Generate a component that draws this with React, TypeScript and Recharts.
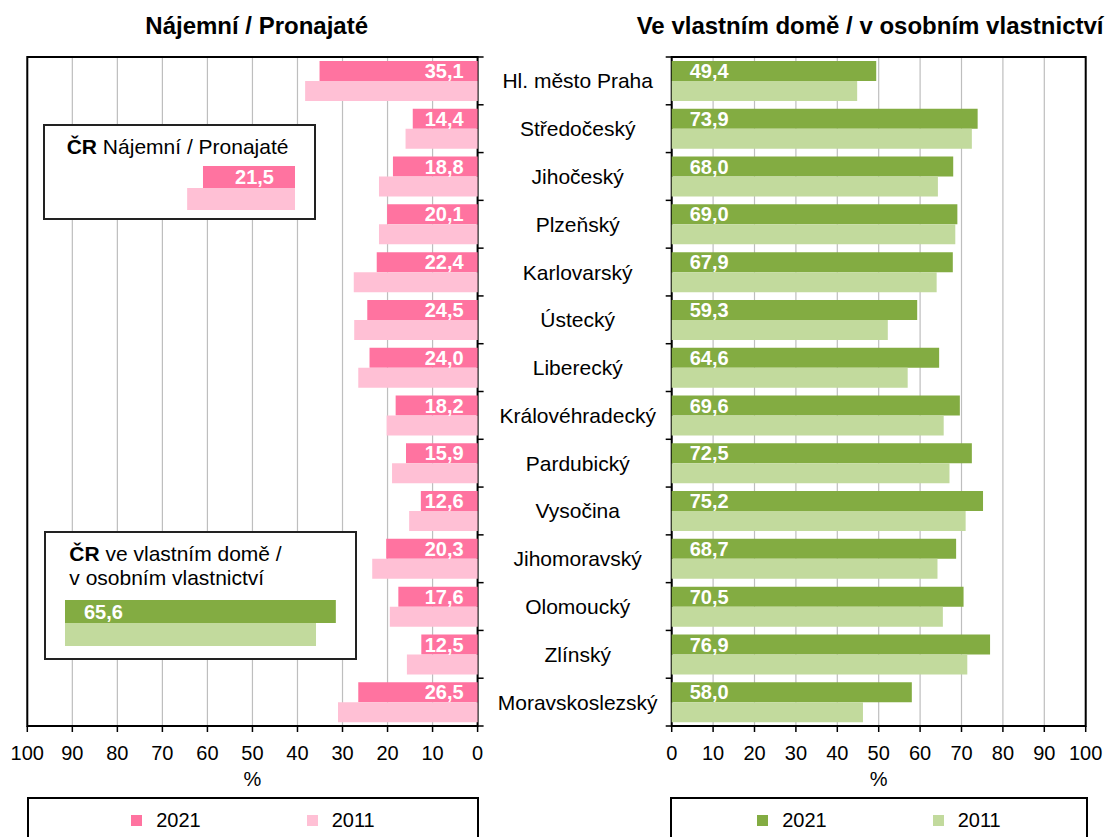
import React from 'react';
import { BarChart, Bar, XAxis, YAxis, CartesianGrid, LabelList, ReferenceArea, Legend } from 'recharts';

const regions = [
  'Hl. město Praha', 'Středočeský', 'Jihočeský', 'Plzeňský', 'Karlovarský', 'Ústecký', 'Liberecký',
  'Královéhradecký', 'Pardubický', 'Vysočina', 'Jihomoravský', 'Olomoucký', 'Zlínský', 'Moravskoslezský',
];
const rent2021 = [35.1, 14.4, 18.8, 20.1, 22.4, 24.5, 24.0, 18.2, 15.9, 12.6, 20.3, 17.6, 12.5, 26.5];
const rent2011 = [38.3, 16.0, 21.9, 21.9, 27.5, 27.4, 26.5, 20.2, 19.0, 15.2, 23.4, 19.5, 15.7, 31.0];
const own2021 = [49.4, 73.9, 68.0, 69.0, 67.9, 59.3, 64.6, 69.6, 72.5, 75.2, 68.7, 70.5, 76.9, 58.0];
const own2011 = [44.8, 72.5, 64.3, 68.5, 64.0, 52.2, 57.0, 65.7, 67.1, 71.0, 64.2, 65.5, 71.4, 46.2];
const crRent = [21.5, 25.2];
const crOwn = [65.6, 60.8];
const percentTicks = [0, 10, 20, 30, 40, 50, 60, 70, 80, 90, 100];
const years = ['2021', '2011'];

const FONT = '"Liberation Sans", Arial, sans-serif';
const PINK = '#FF73A0';
const PINK_L = '#FFC0D5';
const GREEN = '#83AC42';
const GREEN_L = '#C2DA9D';

const rentRows = regions.map((r, i) => ({ region: r, y2021: rent2021[i], y2011: rent2011[i] }));
const ownRows = regions.map((r, i) => ({ region: r, y2021: own2021[i], y2011: own2011[i] }));
const crRentRows = [{ region: 'ČR', y2021: crRent[0], y2011: crRent[1] }];
const crOwnRows = [{ region: 'ČR', y2021: crOwn[0], y2011: crOwn[1] }];

const fmt = (v: any) => Number(v).toFixed(1).replace('.', ',');

const makeTick = (side: 'left' | 'right', withLabel: boolean) => (props: any) => {
  const { x, y, payload, index } = props;
  const half = payload && typeof payload.offset === 'number' ? payload.offset : 0;
  const dx = side === 'right' ? 6 : -6;
  const last = index === regions.length - 1;
  return (
    <g>
      <line x1={x} x2={x + dx} y1={y - half} y2={y - half} stroke="#000" strokeWidth={1.5} />
      {last && <line x1={x} x2={x + dx} y1={y + half} y2={y + half} stroke="#000" strokeWidth={1.5} />}
      {withLabel && (
        <text x={x - 94} y={y} textAnchor="middle" dominantBaseline="central" fontSize={21} fontFamily={FONT} fill="#000">
          {payload.value}
        </text>
      )}
    </g>
  );
};

const LegendContent = (colors: string[]) => (props: any) => {
  const payload = [...(props.payload || [])].sort(
    (a: any, b: any) => years.indexOf(String(a.value)) - years.indexOf(String(b.value)),
  );
  return (
    <div style={{ display: 'flex', justifyContent: 'center', gap: 106, paddingTop: 9, fontFamily: FONT, fontSize: 20, color: '#000' }}>
      {payload.map((p: any, i: number) => (
        <div key={i} style={{ display: 'flex', alignItems: 'center', gap: 14 }}>
          <span style={{ display: 'inline-block', width: 11, height: 11, background: p.color || colors[i] }} />
          <span style={{ lineHeight: '24px' }}>{p.value}</span>
        </div>
      ))}
    </div>
  );
};

const axisTick = { fontSize: 20, fill: '#000', fontFamily: FONT };
const labelStyle = { fill: '#fff', fontSize: 20, fontWeight: 'bold' as const, fontFamily: FONT };

export default function App() {
  return (
    <div style={{ position: 'relative', width: 1105, height: 837, overflow: 'hidden', fontFamily: FONT, background: '#fff' }}>
      <style>{'body{margin:0}'}</style>

      <div style={{ position: 'absolute', left: 256.7, top: 11.6, transform: 'translateX(-50%)', fontSize: 24, lineHeight: '28px', fontWeight: 'bold', whiteSpace: 'nowrap' }}>
        Nájemní / Pronajaté
      </div>
      <div style={{ position: 'absolute', left: 636.7, top: 11.6, fontSize: 24, lineHeight: '28px', fontWeight: 'bold', whiteSpace: 'nowrap' }}>
        Ve vlastním domě / v osobním vlastnictví
      </div>

      {/* Left chart: rent */}
      <div style={{ position: 'absolute', left: 0, top: 0 }}>
        <BarChart layout="vertical" width={485} height={850} data={rentRows}
          margin={{ top: 57, right: 0, left: 27.3, bottom: 64 }} barGap={0}>
          <CartesianGrid horizontal={false} stroke="#BEBEBE" strokeWidth={1.2} />
          <XAxis type="number" domain={[0, 100]} ticks={percentTicks} reversed interval={0}
            height={60} tickSize={6} tickMargin={14} tick={axisTick}
            axisLine={{ stroke: '#000', strokeWidth: 2 }} tickLine={{ stroke: '#000', strokeWidth: 1.5 }}
            label={{ value: '%', position: 'insideBottom', offset: 0, fontSize: 20, fill: '#000', fontFamily: FONT }} />
          <YAxis type="category" dataKey="region" orientation="right" width={7.4} interval={0}
            axisLine={false} tickLine={false} tickSize={0} tickMargin={0} tick={makeTick('right', false)} />
          <Bar dataKey="y2021" name={years[0]} fill={PINK} barSize={20} isAnimationActive={false}>
            <LabelList dataKey="y2021" position="insideLeft" offset={14} formatter={fmt} style={labelStyle} />
          </Bar>
          <Bar dataKey="y2011" name={years[1]} fill={PINK_L} barSize={20} isAnimationActive={false} />
          <ReferenceArea x1={0} x2={100} fill="none" fillOpacity={0} stroke="#000" strokeWidth={2} ifOverflow="visible" />
          <Legend layout="horizontal" verticalAlign="middle" align="center"
            wrapperStyle={{ left: 27, top: 797, width: 452, height: 60, border: '2px solid #000', boxSizing: 'border-box', background: '#fff' }}
            content={LegendContent([PINK, PINK_L])} />
        </BarChart>
      </div>

      {/* Right chart: ownership */}
      <div style={{ position: 'absolute', left: 480, top: 0 }}>
        <BarChart layout="vertical" width={625} height={850} data={ownRows}
          margin={{ top: 57, right: 19.3, left: 0, bottom: 64 }} barGap={0}>
          <CartesianGrid horizontal={false} stroke="#BEBEBE" strokeWidth={1.2} />
          <XAxis type="number" domain={[0, 100]} ticks={percentTicks} interval={0}
            height={60} tickSize={6} tickMargin={14} tick={axisTick}
            axisLine={{ stroke: '#000', strokeWidth: 2 }} tickLine={{ stroke: '#000', strokeWidth: 1.5 }}
            label={{ value: '%', position: 'insideBottom', offset: 0, fontSize: 20, fill: '#000', fontFamily: FONT }} />
          <YAxis type="category" dataKey="region" orientation="left" width={191.7} interval={0}
            axisLine={false} tickLine={false} tickSize={0} tickMargin={0} tick={makeTick('left', true)} />
          <Bar dataKey="y2021" name={years[0]} fill={GREEN} barSize={20} isAnimationActive={false}>
            <LabelList dataKey="y2021" position="insideLeft" offset={18} formatter={fmt} style={labelStyle} />
          </Bar>
          <Bar dataKey="y2011" name={years[1]} fill={GREEN_L} barSize={20} isAnimationActive={false} />
          <ReferenceArea x1={0} x2={100} fill="none" fillOpacity={0} stroke="#000" strokeWidth={2} ifOverflow="visible" />
          <Legend layout="horizontal" verticalAlign="middle" align="center"
            wrapperStyle={{ left: 190, top: 797, width: 418, height: 60, border: '2px solid #000', boxSizing: 'border-box', background: '#fff' }}
            content={LegendContent([GREEN, GREEN_L])} />
        </BarChart>
      </div>

      {/* CR rent inset */}
      <div style={{ position: 'absolute', left: 42.7, top: 124.3, width: 273, height: 96, border: '2px solid #222', boxSizing: 'border-box', background: '#fff' }} />
      <div style={{ position: 'absolute', left: 66.7, top: 135, fontSize: 21, lineHeight: '24px', whiteSpace: 'nowrap' }}>
        <b>ČR</b> Nájemní / Pronajaté
      </div>
      <div style={{ position: 'absolute', left: 81, top: 160 }}>
        <BarChart layout="vertical" width={214} height={55} data={crRentRows} margin={{ top: 0, right: 0, left: 0, bottom: 0 }} barGap={0}>
          <XAxis type="number" domain={[0, 50]} reversed hide />
          <YAxis type="category" dataKey="region" hide />
          <Bar dataKey="y2021" fill={PINK} barSize={22} isAnimationActive={false}>
            <LabelList dataKey="y2021" position="insideLeft" offset={21} formatter={fmt} style={labelStyle} />
          </Bar>
          <Bar dataKey="y2011" fill={PINK_L} barSize={22} isAnimationActive={false} />
        </BarChart>
      </div>

      {/* CR ownership inset */}
      <div style={{ position: 'absolute', left: 44, top: 530.7, width: 313, height: 129, border: '2px solid #222', boxSizing: 'border-box', background: '#fff' }} />
      <div style={{ position: 'absolute', left: 69.3, top: 542, fontSize: 21, lineHeight: '24px', whiteSpace: 'nowrap' }}>
        <b>ČR</b> ve vlastním domě /<br />v osobním vlastnictví
      </div>
      <div style={{ position: 'absolute', left: 65, top: 594.5 }}>
        <BarChart layout="vertical" width={289} height={55} data={crOwnRows} margin={{ top: 0, right: 0, left: 0, bottom: 0 }} barGap={0}>
          <XAxis type="number" domain={[0, 70]} hide />
          <YAxis type="category" dataKey="region" hide />
          <Bar dataKey="y2021" fill={GREEN} barSize={23} isAnimationActive={false}>
            <LabelList dataKey="y2021" position="insideLeft" offset={19} formatter={fmt} style={labelStyle} />
          </Bar>
          <Bar dataKey="y2011" fill={GREEN_L} barSize={23} isAnimationActive={false} />
        </BarChart>
      </div>
    </div>
  );
}
